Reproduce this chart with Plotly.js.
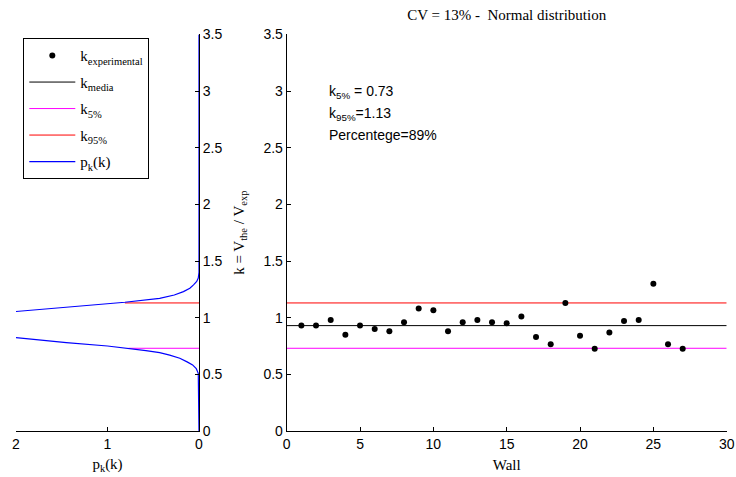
<!DOCTYPE html>
<html>
<head>
<meta charset="utf-8">
<script src="https://cdn.plot.ly/plotly-3.0.1.min.js"></script>
<style>html,body{margin:0;padding:0;background:#fff;}#chart{width:736px;height:477px;}</style>
</head>
<body>
<div id="chart"></div>
<script>
// ---- data ----
const walls = [1,2,3,4,5,6,7,8,9,10,11,12,13,14,15,16,17,18,19,20,21,22,23,24,25,26,27];
const kExperimental = [0.93,0.93,0.98,0.85,0.93,0.90,0.88,0.96,1.08,1.065,0.88,0.96,0.98,0.96,0.95,1.01,0.83,0.765,1.13,0.84,0.725,0.87,0.97,0.98,1.30,0.765,0.725];
const kMedia = 0.93;
const k5 = 0.73;
const k95 = 1.13;
const wallSpan = [0, 30];
const pAtK5 = 0.77;
const pAtK95 = 0.81;
// density curve p_k(k)
const kCurve = [0, 0.45, 0.509, 0.55, 0.583, 0.61, 0.642, 0.67, 0.691, 0.71, 0.73, 0.75, 0.78, 0.81, 0.85, 0.93, 1.00, 1.04, 1.059, 1.08, 1.10, 1.136, 1.171, 1.20, 1.23, 1.26, 1.29, 1.32, 1.35, 1.40, 3.5];
const pCurve = [0, 0, 0.008, 0.03, 0.07, 0.13, 0.21, 0.32, 0.43, 0.58, 0.77, 1.00, 1.45, 2.0, 2.65, 3.3, 2.8, 2.2, 1.95, 1.6, 1.3, 0.81, 0.43, 0.27, 0.17, 0.10, 0.06, 0.025, 0.008, 0, 0];
const xTicksLeft = [0, 1, 2];
const xTicksRight = [0, 5, 10, 15, 20, 25, 30];
const yTicks = [0, 0.5, 1, 1.5, 2, 2.5, 3, 3.5];

const SANS = 'Liberation Sans, Arial, sans-serif';
const SERIF = 'Liberation Serif, Times New Roman, serif';
const W = 736, H = 477;

const traces = [
  {x: wallSpan, y: [kMedia, kMedia], xaxis:'x2', yaxis:'y2', mode:'lines', line:{color:'#000000', width:1},
   name:'k<sub>media</sub>', legendgroup:'g2', legendrank:2},
  {x: wallSpan, y: [k5, k5], xaxis:'x2', yaxis:'y2', mode:'lines', line:{color:'#ff00ff', width:1},
   name:'k<sub>5%</sub>', legendgroup:'g3', legendrank:3},
  {x: wallSpan, y: [k95, k95], xaxis:'x2', yaxis:'y2', mode:'lines', line:{color:'#ff0000', width:1},
   name:'k<sub>95%</sub>', legendgroup:'g4', legendrank:4},
  {x: [pAtK5, 0], y: [k5, k5], xaxis:'x', yaxis:'y', mode:'lines', line:{color:'#ff00ff', width:1},
   showlegend:false, legendgroup:'g3'},
  {x: [pAtK95, 0], y: [k95, k95], xaxis:'x', yaxis:'y', mode:'lines', line:{color:'#ff0000', width:1},
   showlegend:false, legendgroup:'g4'},
  {x: pCurve, y: kCurve, xaxis:'x', yaxis:'y', mode:'lines', line:{color:'#0000ff', width:1.2},
   name:'p<sub>k</sub>(k)', legendgroup:'g5', legendrank:5, cliponaxis:true},
  {x: walls, y: kExperimental, xaxis:'x2', yaxis:'y2', mode:'markers',
   marker:{color:'#000000', size:6}, name:'k<sub>experimental</sub>', legendgroup:'g1', legendrank:1}
];

const yDom = [1 - 431/H, 1 - 34.4/H];
const axBase = {
  showgrid:false, zeroline:false, showline:true, linecolor:'#000000', linewidth:1,
  ticks:'inside', ticklen:4, tickcolor:'#000000', tickwidth:1,
  tickfont:{family:SANS, size:14, color:'#000000'}, fixedrange:true
};

const layout = {
  width: W, height: H,
  margin:{l:0, r:0, t:0, b:0},
  paper_bgcolor:'#ffffff', plot_bgcolor:'rgba(0,0,0,0)',
  font:{family:SANS, color:'#000000'},
  showlegend:true,
  title:{text:'CV = 13% -\u00a0 Normal distribution', font:{family:SERIF, size:15, color:'#000000'},
         x: 506.7/W, xanchor:'center', y: 1 - 15/H, yanchor:'middle', xref:'paper', yref:'paper'},
  xaxis: Object.assign({}, axBase, {
    domain:[16/W, 199/W], range:[2, 0], anchor:'y', tickmode:'array', tickvals:xTicksLeft,
    title:{text:'p<sub>k</sub>(k)', font:{family:SERIF, size:15, color:'#000000'}, standoff:7}
  }),
  yaxis: Object.assign({}, axBase, {
    domain: yDom, range:[0, 3.5], anchor:'x', side:'right', tickmode:'array', tickvals:yTicks
  }),
  xaxis2: Object.assign({}, axBase, {
    domain:[286.7/W, 726.7/W], range:[0, 30], anchor:'y2', tickmode:'array', tickvals:xTicksRight,
    title:{text:'Wall', font:{family:SERIF, size:15, color:'#000000'}, standoff:8}
  }),
  yaxis2: Object.assign({}, axBase, {
    domain: yDom, range:[0, 3.5], anchor:'x2', side:'left', tickmode:'array', tickvals:yTicks,
    title:{text:'k = V<sub>the</sub> / V<sub>exp</sub>', font:{family:SERIF, size:15, color:'#000000'}, standoff:15}
  }),
  legend:{
    x: 23.3/W, y: 1 - 38.3/H, xanchor:'left', yanchor:'top',
    bordercolor:'#000000', borderwidth:1, bgcolor:'#ffffff',
    font:{family:SERIF, size:15, color:'#000000'},
    itemwidth:46, tracegroupgap:4, traceorder:'grouped'
  },
  annotations:[
    {text:'k<sub>5%</sub> = 0.73', xref:'paper', yref:'paper', x:327/W, y:1-92/H, xanchor:'left', yanchor:'middle',
     showarrow:false, font:{family:SANS, size:14, color:'#000000'}},
    {text:'k<sub>95%</sub>=1.13', xref:'paper', yref:'paper', x:327/W, y:1-114/H, xanchor:'left', yanchor:'middle',
     showarrow:false, font:{family:SANS, size:14, color:'#000000'}},
    {text:'Percentege=89%', xref:'paper', yref:'paper', x:327/W, y:1-135/H, xanchor:'left', yanchor:'middle',
     showarrow:false, font:{family:SANS, size:14, color:'#000000'}}
  ]
};

Plotly.newPlot('chart', traces, layout, {staticPlot:true, displayModeBar:false});
</script>
</body>
</html>
